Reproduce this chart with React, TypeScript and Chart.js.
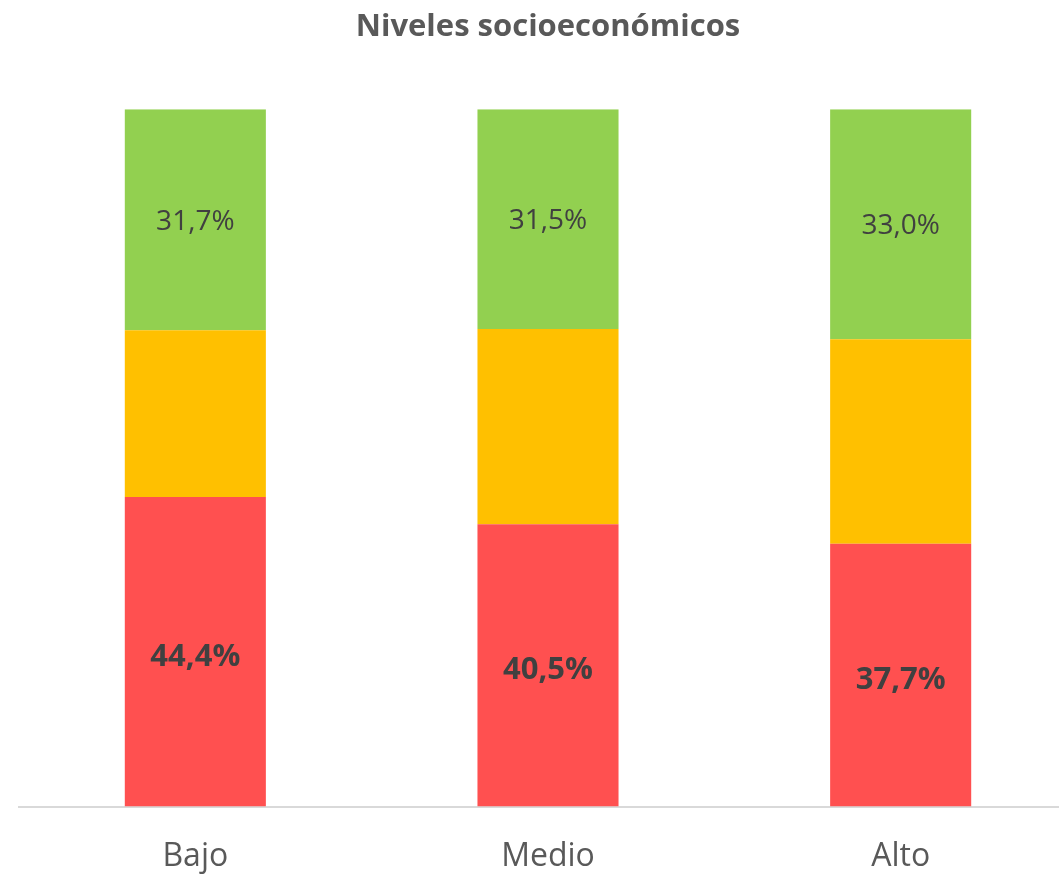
import React, { useEffect, useRef } from "react";
import { Chart, registerables } from "chart.js";

Chart.register(...registerables);

const categories = ["Bajo", "Medio", "Alto"];
const bajoValues = [44.4, 40.5, 37.7];
const medioValues = [23.9, 28.0, 29.3];
const altoValues = [31.7, 31.5, 33.0];
const seriesNames = ["Bajo", "Medio", "Alto"];
const seriesColors = ["#FF5050", "#FFC000", "#92D050"];
const titleText = "Niveles socioeconómicos";

const FONT = "'Open Sans', 'DejaVu Sans', sans-serif";

const fmt = (v: number) => v.toFixed(1).replace(".", ",") + "%";

const labelPlugin = {
  id: "segLabels",
  afterDatasetsDraw(chart: any) {
    const ctx = chart.ctx;
    ctx.save();
    ctx.textAlign = "center";
    ctx.textBaseline = "middle";
    ctx.fillStyle = "#404040";
    const styles: Record<number, string> = {
      0: `bold 31px ${FONT}`,
      2: `normal 28px ${FONT}`,
    };
    const offs: Record<number, number> = { 0: 5, 2: 2 };
    [0, 2].forEach((di) => {
      const meta = chart.getDatasetMeta(di);
      const data = chart.data.datasets[di].data as number[];
      meta.data.forEach((bar: any, i: number) => {
        const { x, y, base } = bar.getProps(["x", "y", "base"], true);
        ctx.font = styles[di];
        ctx.fillText(fmt(data[i]), x, (y + base) / 2 + offs[di]);
      });
    });
    ctx.restore();
  },
};

export default function App() {
  const ref = useRef<HTMLCanvasElement | null>(null);
  useEffect(() => {
    if (!ref.current) return;
    const chart = new Chart(ref.current, {
      type: "bar",
      data: {
        labels: categories,
        datasets: [bajoValues, medioValues, altoValues].map((d, i) => ({
          label: seriesNames[i],
          data: d,
          backgroundColor: seriesColors[i],
          borderWidth: 0,
          categoryPercentage: 1,
          barPercentage: 0.4,
        })),
      },
      options: {
        animation: false,
        responsive: false,
        maintainAspectRatio: false,
        layout: { padding: { left: 19, right: 0, top: 0, bottom: 1 } },
        plugins: {
          legend: { display: false },
          tooltip: { enabled: false },
          title: {
            display: true,
            text: titleText,
            color: "#595959",
            font: { family: FONT, size: 31, weight: "bold" },
            padding: { top: 9, bottom: 63 },
          },
        },
        scales: {
          x: {
            stacked: true,
            grid: { display: false, drawTicks: false },
            border: { display: true, color: "#D9D9D9", width: 2 },
            ticks: {
              color: "#595959",
              font: { family: FONT, size: 32 },
              padding: 31,
            },
          },
          y: {
            stacked: true,
            display: false,
            min: 0,
            max: 100,
          },
        },
      },
      plugins: [labelPlugin],
    });
    return () => chart.destroy();
  }, []);
  return (
    <div
      style={{
        position: "fixed",
        left: 0,
        top: 0,
        width: 1059,
        height: 875,
        overflow: "hidden",
        background: "#fff",
      }}
    >
      <canvas ref={ref} width={1077} height={908} style={{ display: "block" }} />
    </div>
  );
}
